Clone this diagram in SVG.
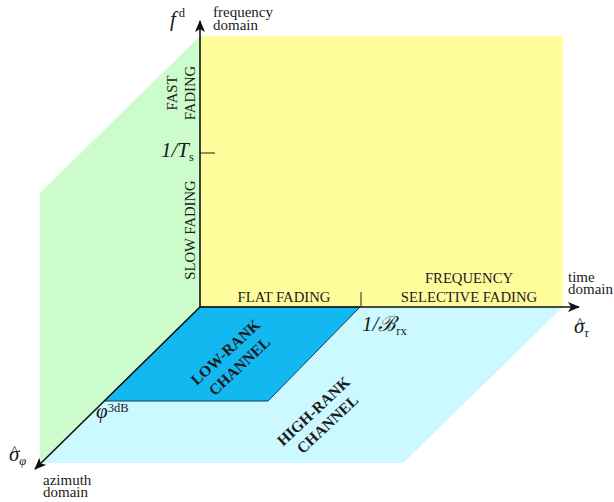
<svg xmlns="http://www.w3.org/2000/svg" width="614" height="502" viewBox="0 0 614 502">
<style>
text{font-family:"Liberation Serif","Times New Roman",serif;fill:#1a1a1a}
.lab{font-size:14.7px}
.dom{font-size:15px}
.b{font-size:15.5px;font-weight:bold}
.m{font-size:21px;font-style:italic}
.s{font-size:12.5px}
.hat{font-size:15px}
.ax{stroke:#111;stroke-width:1.6;fill:none}
.tk{stroke:#222;stroke-width:1;fill:none}
</style>
<defs>
<marker id="ah" viewBox="0 0 12 10" refX="11" refY="5" markerWidth="12" markerHeight="10" markerUnits="userSpaceOnUse" orient="auto">
<path d="M0,0 L12,5 L0,10 L3,5 Z" fill="#111"/>
</marker>
</defs>
<g id="regions">
<polygon id="green" points="200,36 40,193 40,463 200,307" fill="#ccfccc"/>
<rect id="yellow" x="200" y="36" width="363" height="271" fill="#fffc9c"/>
<polygon id="cyan" points="200,307 563,307 403,463 40,463" fill="#ccf8ff"/>
<polygon id="blue" points="200,307 360,307 268,401 104,401" fill="#14b8f0" stroke="#0b3f5e" stroke-width="1"/>
</g>
<g id="connectors">
<line class="ax" x1="200" y1="307" x2="200" y2="21" marker-end="url(#ah)"/>
<line class="ax" x1="200" y1="307" x2="579" y2="307" marker-end="url(#ah)"/>
<line class="ax" x1="200" y1="307" x2="35" y2="469" marker-end="url(#ah)"/>
<line class="tk" x1="200" y1="153" x2="215" y2="153"/>
<line class="tk" x1="361" y1="292" x2="361" y2="307"/>
</g>
<g id="fd-label">
<text x="170" y="26" class="m" font-size="23">f<tspan class="s" font-style="normal" dx="3" dy="-9">d</tspan></text>
<text x="213" y="17" class="dom">frequency</text>
<text x="213" y="30" class="dom">domain</text>
</g>
<g id="fast-fading">
<text transform="translate(177,93) rotate(-90)" text-anchor="middle" class="lab">FAST</text>
<text transform="translate(195,93) rotate(-90)" text-anchor="middle" class="lab">FADING</text>
</g>
<g id="ts-label">
<text x="161" y="157" class="m">1/T<tspan class="s" font-style="normal" dy="4">s</tspan></text>
</g>
<g id="slow-fading">
<text transform="translate(195,230) rotate(-90)" text-anchor="middle" class="lab">SLOW FADING</text>
</g>
<g id="flat-fading">
<text x="284" y="302" text-anchor="middle" class="lab">FLAT FADING</text>
</g>
<g id="freq-sel">
<text x="469" y="283" text-anchor="middle" class="lab">FREQUENCY</text>
<text x="469" y="302" text-anchor="middle" class="lab">SELECTIVE FADING</text>
</g>
<g id="time-label">
<text x="568" y="282" class="dom">time</text>
<text x="568" y="294" class="dom">domain</text>
<text x="574" y="333" class="m" font-size="20">σ<tspan class="s" dy="4">τ</tspan></text>
<text x="576.5" y="328" class="hat">^</text>
</g>
<g id="brx-label">
<text x="362" y="331" class="m" font-size="20">1/ℬ<tspan class="s" font-style="normal" dy="4">rx</tspan></text>
</g>
<g id="low-rank">
<text transform="translate(229,356) rotate(-43)" text-anchor="middle" class="b">LOW-RANK</text>
<text transform="translate(243,370) rotate(-43)" text-anchor="middle" class="b">CHANNEL</text>
</g>
<g id="high-rank">
<text transform="translate(317,415) rotate(-43)" text-anchor="middle" class="b">HIGH-RANK</text>
<text transform="translate(331,428) rotate(-43)" text-anchor="middle" class="b">CHANNEL</text>
</g>
<g id="phi-label">
<text x="96" y="418" class="m" font-size="23">φ<tspan class="s" font-style="normal" dy="-6">3dB</tspan></text>
</g>
<g id="az-label">
<text x="9" y="461" class="m" font-size="20">σ<tspan class="s" dy="4">φ</tspan></text>
<text x="11" y="456" class="hat">^</text>
<text x="43" y="485" class="dom">azimuth</text>
<text x="43" y="497" class="dom">domain</text>
</g>
</svg>
